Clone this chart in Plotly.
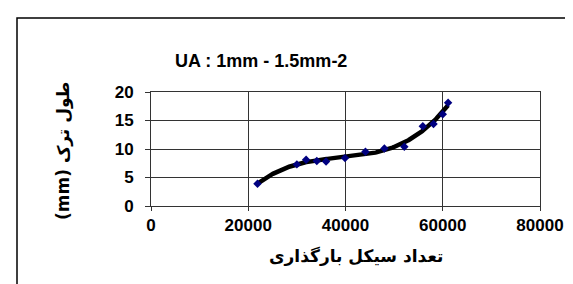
import numpy as np
import plotly.graph_objects as go

cycles = [21900, 30000, 31900, 34100, 36000, 39900, 44100, 48000, 52100, 55900, 58100, 60000, 61100]
crack_mm = [3.9, 7.3, 8.1, 7.9, 7.8, 8.4, 9.5, 10.1, 10.4, 14.0, 14.4, 16.1, 18.1]
x_ticks = [0, 20000, 40000, 60000, 80000]
y_ticks = [0, 5, 10, 15, 20]
title_text = "UA : 1mm - 1.5mm-2"
x_title = "تعداد سیکل بارگذاری"
y_title = "(mm) طول ترک"

# 3rd-order polynomial trendline fitted to the data (as in the source chart)
coef = np.polyfit(cycles, crack_mm, 3)
xs = np.linspace(min(cycles), max(cycles), 200)
ys = np.polyval(coef, xs)

fig = go.Figure()
fig.add_trace(go.Scatter(x=xs, y=ys, mode="lines",
                         line=dict(color="black", width=4.5), showlegend=False))
fig.add_trace(go.Scatter(x=cycles, y=crack_mm, mode="markers",
                         marker=dict(symbol="diamond", size=6.5, color="#000080"),
                         showlegend=False))

tickfont = dict(family="Liberation Sans, Arial", size=17, color="black", weight="bold")
fig.update_layout(
    width=573, height=284,
    margin=dict(l=143, r=41, t=84, b=86),
    paper_bgcolor="white", plot_bgcolor="white",
    xaxis=dict(range=[0, 80000], tickvals=x_ticks, ticktext=[str(v) for v in x_ticks],
               showgrid=True, gridcolor="#333333", gridwidth=1,
               showline=True, linecolor="#333333", linewidth=1, mirror=True,
               ticks="outside", ticklen=4, tickcolor="#333333",
               tickfont=tickfont, zeroline=False),
    yaxis=dict(range=[0, 20], tickvals=y_ticks,
               showgrid=True, gridcolor="#333333", gridwidth=1,
               showline=True, linecolor="#333333", linewidth=1, mirror=True,
               ticks="outside", ticklen=5, tickcolor="#333333", ticklabelstandoff=8,
               tickfont=tickfont, zeroline=False),
    annotations=[
        dict(text=title_text, xref="paper", yref="paper", x=(253 - 143) / 389, y=1.0, yshift=31,
             xanchor="center", yanchor="middle", showarrow=False,
             font=dict(family="Liberation Sans, Arial", size=18, color="black", weight="bold")),
        dict(text=x_title, xref="paper", yref="paper", x=(348 - 143) / 389, y=0, yshift=-50,
             xanchor="center", yanchor="middle", showarrow=False,
             font=dict(family="DejaVu Sans", size=17, color="black", weight="bold")),
        dict(text=y_title, xref="paper", yref="paper", x=0, xshift=-88, y=(198 - 143) / 114,
             xanchor="center", yanchor="middle", textangle=-90, showarrow=False,
             font=dict(family="DejaVu Sans", size=17, color="black", weight="bold")),
    ],
    shapes=[dict(type="rect", xref="paper", yref="paper",
                 x0=-134 / 389, x1=(600 - 143) / 389, y0=-(320 - 198) / 114, y1=1 + 74 / 114,
                 line=dict(color="black", width=1.5), fillcolor="rgba(0,0,0,0)", layer="below")],
)
fig.write_html("out.html")
